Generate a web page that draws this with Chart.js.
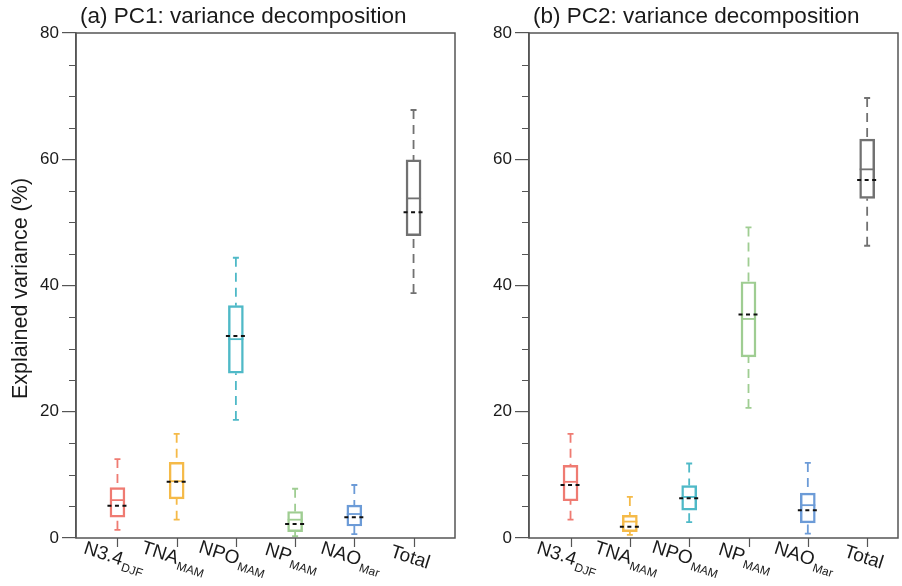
<!DOCTYPE html>
<html>
<head>
<meta charset="utf-8">
<script src="https://cdn.jsdelivr.net/npm/chart.js@4.4.1/dist/chart.umd.min.js"></script>
<style>
  html, body { margin: 0; padding: 0; background: #ffffff; }
  #wrap { position: relative; width: 902px; height: 586px; overflow: hidden; }
  #wrapA { position: absolute; left: 0; top: 0; width: 470px; height: 586px; }
  #wrapB { position: absolute; left: 470px; top: 0; width: 432px; height: 586px; }
</style>
</head>
<body>
<div id="wrap">
  <div id="wrapA"><canvas id="cA" width="470" height="586"></canvas></div>
  <div id="wrapB"><canvas id="cB" width="432" height="586"></canvas></div>
</div>
<script>
// ---------------- data ----------------
const categories = ['N3.4', 'TNA', 'NPO', 'NP', 'NAO', 'Total'];
const subscripts = ['DJF', 'MAM', 'MAM', 'MAM', 'Mar', ''];
const boxColors = ['#ef7b72', '#f5ba48', '#4fb9c7', '#9fcd92', '#6c9bd7', '#717171'];
const yTickValues = [0, 20, 40, 60, 80];

// PC1 (panel a)
const pc1Low    = [1.3, 2.9, 18.7, 0.3, 0.6, 38.8];
const pc1Q1     = [3.3, 6.2, 26.1, 1.0, 1.9, 47.9];
const pc1Median = [6.0, 9.0, 31.5, 2.9, 3.8, 53.8];
const pc1Mean   = [5.1, 8.9, 32.0, 2.2, 3.3, 51.6];
const pc1Q3     = [8.0, 12.0, 36.8, 4.2, 5.2, 59.9];
const pc1High   = [12.5, 16.5, 44.4, 7.8, 8.4, 67.8];

// PC2 (panel b)
const pc2Low    = [2.9, 0.5, 2.5, 20.6, 0.7, 46.3];
const pc2Q1     = [5.9, 1.0, 4.4, 28.7, 2.4, 53.8];
const pc2Median = [8.9, 2.6, 6.5, 34.7, 5.2, 58.4];
const pc2Mean   = [8.4, 1.8, 6.3, 35.4, 4.4, 56.7];
const pc2Q3     = [11.5, 3.6, 8.3, 40.6, 7.1, 63.2];
const pc2High   = [16.5, 6.5, 11.8, 49.2, 11.9, 69.7];

const FONT = '"Liberation Sans", Arial, Helvetica, sans-serif';
const AXIS_COLOR = '#555555';
const TEXT_COLOR = '#1a1a1a';

function boxPlugin(title, showYTitle, stats) {
  return {
    id: 'boxExtras',
    afterDatasetsDraw(chart) {
      const ctx = chart.ctx;
      const xs = chart.scales.x, ys = chart.scales.y;
      const half = 7.5;
      ctx.save();
      for (let i = 0; i < categories.length; i++) {
        const px = xs.getPixelForValue(i);
        const col = boxColors[i];
        const yLow = ys.getPixelForValue(stats.low[i]);
        const yQ1 = ys.getPixelForValue(stats.q1[i]);
        const yQ3 = ys.getPixelForValue(stats.q3[i]);
        const yHigh = ys.getPixelForValue(stats.high[i]);
        const yMed = ys.getPixelForValue(stats.median[i]);
        const yMean = ys.getPixelForValue(stats.mean[i]);
        ctx.strokeStyle = col;
        ctx.lineWidth = 1.8;
        // whiskers (dashed)
        ctx.setLineDash([9, 6]);
        ctx.beginPath();
        ctx.moveTo(px, yHigh); ctx.lineTo(px, yQ3);
        ctx.moveTo(px, yLow); ctx.lineTo(px, yQ1);
        ctx.stroke();
        // caps
        ctx.setLineDash([]);
        ctx.beginPath();
        ctx.moveTo(px - 3, yHigh); ctx.lineTo(px + 3, yHigh);
        ctx.moveTo(px - 3, yLow); ctx.lineTo(px + 3, yLow);
        ctx.stroke();
        // median
        ctx.beginPath();
        ctx.moveTo(px - half, yMed); ctx.lineTo(px + half, yMed);
        ctx.stroke();
        // mean (black dashed)
        ctx.strokeStyle = '#111111';
        ctx.lineWidth = 2;
        ctx.setLineDash([4, 3.5]);
        ctx.beginPath();
        ctx.moveTo(px - 10, yMean); ctx.lineTo(px + 10, yMean);
        ctx.stroke();
        ctx.setLineDash([]);
      }
      ctx.restore();
    },
    afterDraw(chart) {
      const ctx = chart.ctx;
      const xs = chart.scales.x, ys = chart.scales.y;
      const a = chart.chartArea;
      ctx.save();
      // frame
      ctx.strokeStyle = AXIS_COLOR;
      ctx.lineWidth = 1.5;
      ctx.strokeRect(a.left, a.top, a.right - a.left, a.bottom - a.top);
      // minor y ticks
      ctx.lineWidth = 1.2;
      ctx.beginPath();
      for (let v = 5; v < 80; v += 5) {
        if (v % 20 === 0) continue;
        const py = Math.round(ys.getPixelForValue(v)) + 0.5;
        ctx.moveTo(a.left - 7, py); ctx.lineTo(a.left, py);
      }
      // x ticks
      for (let i = 0; i < categories.length; i++) {
        const px = Math.round(xs.getPixelForValue(i)) + 0.5;
        ctx.moveTo(px, a.bottom); ctx.lineTo(px, a.bottom + 9);
      }
      ctx.stroke();
      // x labels with subscripts, rotated
      ctx.fillStyle = TEXT_COLOR;
      const ang = 18 * Math.PI / 180;
      for (let i = 0; i < categories.length; i++) {
        const px = xs.getPixelForValue(i);
        ctx.save();
        ctx.translate(px - 3, a.bottom + 18);
        ctx.rotate(ang);
        ctx.font = '19px ' + FONT;
        const wm = ctx.measureText(categories[i]).width;
        ctx.font = '12px ' + FONT;
        const wsub = subscripts[i] ? ctx.measureText(subscripts[i]).width : 0;
        const tot = wm + wsub;
        ctx.textBaseline = 'alphabetic';
        ctx.textAlign = 'left';
        ctx.font = '19px ' + FONT;
        ctx.fillText(categories[i], -tot / 2, 7);
        if (subscripts[i]) {
          ctx.font = '12px ' + FONT;
          ctx.fillText(subscripts[i], -tot / 2 + wm + 1, 12);
        }
        ctx.restore();
      }
      // title
      ctx.font = '22.5px ' + FONT;
      ctx.textAlign = 'left';
      ctx.textBaseline = 'alphabetic';
      ctx.fillText(title, a.left + 4, 23);
      // y title
      if (showYTitle) {
        ctx.save();
        ctx.translate(27, (a.top + a.bottom) / 2 + 3);
        ctx.rotate(-Math.PI / 2);
        ctx.textAlign = 'center';
        ctx.font = '21.5px ' + FONT;
        ctx.fillText('Explained variance (%)', 0, 0);
        ctx.restore();
      }
      ctx.restore();
    }
  };
}

function makeChart(canvasId, title, showYTitle, stats, yAxisWidth, padRight, xMax) {
  const boxData = categories.map((c, i) => ({ x: i, y: [stats.q1[i], stats.q3[i]] }));
  return new Chart(document.getElementById(canvasId), {
    type: 'bar',
    data: {
      datasets: [{
        label: 'IQR',
        data: boxData,
        backgroundColor: 'rgba(255,255,255,0)',
        borderColor: boxColors,
        borderWidth: 1.8,
        borderSkipped: false,
        barThickness: 15
      }]
    },
    options: {
      responsive: false,
      animation: false,
      devicePixelRatio: 1,
      layout: { padding: { top: 33, right: padRight, bottom: 0, left: 0 } },
      plugins: { legend: { display: false }, tooltip: { enabled: false }, title: { display: false } },
      scales: {
        x: {
          type: 'linear',
          offset: false,
          min: -0.7,
          max: xMax,
          grid: { display: false, offset: false },
          border: { display: false },
          ticks: { display: false },
          afterFit: (s) => { s.height = 48; }
        },
        y: {
          min: 0,
          max: 80,
          afterBuildTicks: (s) => { s.ticks = yTickValues.map(v => ({ value: v })); },
          ticks: { color: TEXT_COLOR, font: { size: 17, family: FONT }, padding: 3 },
          grid: { display: true, drawOnChartArea: false, drawTicks: true, tickLength: 14, color: AXIS_COLOR, lineWidth: 1.2 },
          border: { display: true, color: AXIS_COLOR, width: 1.5 },
          afterFit: (s) => { s.width = yAxisWidth; }
        }
      }
    },
    plugins: [boxPlugin(title, showYTitle, stats)]
  });
}

makeChart('cA', '(a) PC1: variance decomposition', true,
  { low: pc1Low, q1: pc1Q1, median: pc1Median, mean: pc1Mean, q3: pc1Q3, high: pc1High },
  76, 15, 5.7);
makeChart('cB', '(b) PC2: variance decomposition', false,
  { low: pc2Low, q1: pc2Q1, median: pc2Median, mean: pc2Mean, q3: pc2Q3, high: pc2High },
  59, 4, 5.52);
</script>
</body>
</html>
